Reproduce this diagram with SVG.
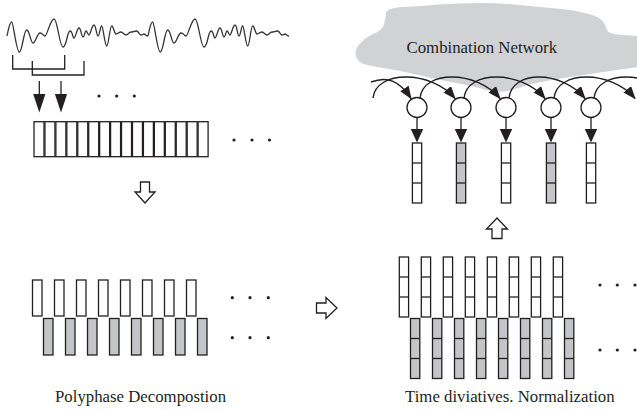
<svg xmlns="http://www.w3.org/2000/svg" xmlns:xlink="http://www.w3.org/1999/xlink" width="637" height="410" viewBox="0 0 637 410">
<style>
.ln{fill:none;stroke:#231f20;stroke-width:1.3}
.bx{fill:#fff;stroke:#231f20;stroke-width:1.3}
.gx{fill:#c4c5c9;stroke:#231f20;stroke-width:1.3}
.dv{stroke:#231f20;stroke-width:1.3}
.dot{fill:#231f20}
.hol{fill:#fff;stroke:#231f20;stroke-width:1.3;stroke-linejoin:miter}
.txt{font-family:"Liberation Serif","Times New Roman",serif;font-size:16.8px;fill:#231f20}
.arc{fill:none;stroke:#231f20;stroke-width:1.4;marker-end:url(#ah)}
.wave{fill:none;stroke:#333;stroke-width:1.3;stroke-linejoin:round}
</style>
<defs>
<marker id="ah" viewBox="0 0 13 10" refX="12" refY="5" markerWidth="13" markerHeight="10" orient="auto" markerUnits="userSpaceOnUse"><path d="M0,0 L13,5 L0,10 z" fill="#231f20"/></marker>
<path id="wv" d="M7,36 C8.5,28 10,22 11.7,22 S16.3,52 19.3,52 S23.7,30 26.7,30 S30.5,43 33,43 S37.2,33 40,33 S43,36 45,36 S50.4,19 54,19 S59.4,47 63,47 S67.2,31 70,31 S72.4,38 74,38 S77,28 79,28 S81.4,37 83,37 S84.8,31 86,31 S87.8,35 89,35 S92,25 94,25 S96.4,36 98,36 S100.2,26 101.7,26 S104.7,46 106.7,46 S109.7,26 111.7,26 S114.3,34 116,34 S119,32 121,32 S124,35 126,35 S129,32 131,32 S134.3,31 136.5,31 S139.2,35 141,35 S142.8,34 144,34 S146.4,36 148,36"/>
<g id="col3w"><rect class="bx" x="0" y="0" width="9.3" height="60"/><line class="dv" x1="0" y1="20" x2="9.3" y2="20"/><line class="dv" x1="0" y1="40" x2="9.3" y2="40"/></g>
<g id="col3g"><rect class="gx" x="0" y="0" width="9.3" height="60"/><line class="dv" x1="0" y1="20" x2="9.3" y2="20"/><line class="dv" x1="0" y1="40" x2="9.3" y2="40"/></g>
</defs>

<g id="cloud">
<path fill="#d1d2d4" d="M403,7 Q420,6 440,4.5 Q460,3 480,3 Q500,3 520,5 Q540,7 557,8.5 Q575,10 587,13.5 Q600,17 603,21.5 Q606,26 607,30 Q608,34 622,35 Q637,36 641,36 Q645,36 645,51 Q645,67 641,67 Q637,67 617,70 Q597,73 580,75.5 Q563,78 546,81 Q530,84 515,89 Q500,94 486,90 Q473,86 456,83 Q440,80 423,76 Q407,72 392,69.5 Q377,67 367,65 Q358,63 356,56.5 Q354,50 360,43.5 Q366,37 374,33.5 Q383,30 384,24 Q386,18 386,13 Q387,8 403,7 Z"/>
<text class="txt" x="406.5" y="53">Combination Network</text>
</g>

<g id="waveform">
<use xlink:href="#wv" href="#wv" class="wave"/>
<use xlink:href="#wv" href="#wv" class="wave" x="141"/>
</g>

<g id="windows">
<path class="ln" d="M12.7,55 V69 H64.7 V55"/>
<path class="ln" d="M32.3,61 V75 H84 V61"/>
</g>

<g id="frames">
<rect class="bx" x="34" y="121.7" width="10" height="35"/>
<rect class="bx" x="44.94" y="121.7" width="10" height="35"/>
<rect class="bx" x="55.88" y="121.7" width="10" height="35"/>
<rect class="bx" x="66.82" y="121.7" width="10" height="35"/>
<rect class="bx" x="77.76" y="121.7" width="10" height="35"/>
<rect class="bx" x="88.7" y="121.7" width="10" height="35"/>
<rect class="bx" x="99.64" y="121.7" width="10" height="35"/>
<rect class="bx" x="110.58" y="121.7" width="10" height="35"/>
<rect class="bx" x="121.52" y="121.7" width="10" height="35"/>
<rect class="bx" x="132.46" y="121.7" width="10" height="35"/>
<rect class="bx" x="143.4" y="121.7" width="10" height="35"/>
<rect class="bx" x="154.34" y="121.7" width="10" height="35"/>
<rect class="bx" x="165.28" y="121.7" width="10" height="35"/>
<rect class="bx" x="176.22" y="121.7" width="10" height="35"/>
<rect class="bx" x="187.16" y="121.7" width="10" height="35"/>
<rect class="bx" x="198.1" y="121.7" width="10" height="35"/>
<circle class="dot" cx="99" cy="96" r="1.6"/><circle class="dot" cx="116.7" cy="96" r="1.6"/><circle class="dot" cx="134.3" cy="96" r="1.6"/>
<circle class="dot" cx="234" cy="140" r="1.6"/><circle class="dot" cx="252" cy="140" r="1.6"/><circle class="dot" cx="269.5" cy="140" r="1.6"/>
</g>

<g id="polyphase">
<rect class="bx" x="32.5" y="280" width="9.5" height="36"/>
<rect class="bx" x="54.5" y="280" width="9.5" height="36"/>
<rect class="bx" x="76.5" y="280" width="9.5" height="36"/>
<rect class="bx" x="98.5" y="280" width="9.5" height="36"/>
<rect class="bx" x="120.5" y="280" width="9.5" height="36"/>
<rect class="bx" x="142.5" y="280" width="9.5" height="36"/>
<rect class="bx" x="164.5" y="280" width="9.5" height="36"/>
<rect class="bx" x="186.5" y="280" width="9.5" height="36"/>
<rect class="gx" x="43.5" y="318.5" width="9.5" height="36.5"/>
<rect class="gx" x="65.5" y="318.5" width="9.5" height="36.5"/>
<rect class="gx" x="87.5" y="318.5" width="9.5" height="36.5"/>
<rect class="gx" x="109.5" y="318.5" width="9.5" height="36.5"/>
<rect class="gx" x="131.5" y="318.5" width="9.5" height="36.5"/>
<rect class="gx" x="153.5" y="318.5" width="9.5" height="36.5"/>
<rect class="gx" x="175.5" y="318.5" width="9.5" height="36.5"/>
<rect class="gx" x="197.5" y="318.5" width="9.5" height="36.5"/>
<circle class="dot" cx="232.3" cy="297.7" r="1.6"/><circle class="dot" cx="250" cy="297.7" r="1.6"/><circle class="dot" cx="268.3" cy="297.7" r="1.6"/>
<circle class="dot" cx="232.3" cy="337.7" r="1.6"/><circle class="dot" cx="250" cy="337.7" r="1.6"/><circle class="dot" cx="268.3" cy="337.7" r="1.6"/>
<text class="txt" x="55" y="402">Polyphase Decompostion</text>
</g>

<g id="features">
<use href="#col3w" xlink:href="#col3w" x="399.3" y="257"/>
<use href="#col3w" xlink:href="#col3w" x="421.3" y="257"/>
<use href="#col3w" xlink:href="#col3w" x="443.3" y="257"/>
<use href="#col3w" xlink:href="#col3w" x="465.3" y="257"/>
<use href="#col3w" xlink:href="#col3w" x="487.3" y="257"/>
<use href="#col3w" xlink:href="#col3w" x="509.3" y="257"/>
<use href="#col3w" xlink:href="#col3w" x="531.3" y="257"/>
<use href="#col3w" xlink:href="#col3w" x="553.3" y="257"/>
<use href="#col3g" xlink:href="#col3g" x="410.5" y="318.5"/>
<use href="#col3g" xlink:href="#col3g" x="432.5" y="318.5"/>
<use href="#col3g" xlink:href="#col3g" x="454.5" y="318.5"/>
<use href="#col3g" xlink:href="#col3g" x="476.5" y="318.5"/>
<use href="#col3g" xlink:href="#col3g" x="498.5" y="318.5"/>
<use href="#col3g" xlink:href="#col3g" x="520.5" y="318.5"/>
<use href="#col3g" xlink:href="#col3g" x="542.5" y="318.5"/>
<use href="#col3g" xlink:href="#col3g" x="564.5" y="318.5"/>
<circle class="dot" cx="600" cy="285" r="1.6"/><circle class="dot" cx="617.3" cy="285" r="1.6"/><circle class="dot" cx="635" cy="285" r="1.6"/>
<circle class="dot" cx="600" cy="350" r="1.6"/><circle class="dot" cx="617.3" cy="350" r="1.6"/><circle class="dot" cx="635" cy="350" r="1.6"/>
<text class="txt" x="405" y="402">Time diviatives. Normalization</text>
</g>

<g id="outputs">
<use href="#col3w" xlink:href="#col3w" x="412.4" y="143"/>
<use href="#col3g" xlink:href="#col3g" x="456.4" y="143"/>
<use href="#col3w" xlink:href="#col3w" x="501.4" y="143"/>
<use href="#col3g" xlink:href="#col3g" x="546.4" y="143"/>
<use href="#col3w" xlink:href="#col3w" x="586.4" y="143"/>
</g>

<g id="nodes">
<circle class="bx" cx="417" cy="107.5" r="10"/>
<circle class="bx" cx="461" cy="107.5" r="10"/>
<circle class="bx" cx="506" cy="107.5" r="10"/>
<circle class="bx" cx="551" cy="107.5" r="10"/>
<circle class="bx" cx="591" cy="107.5" r="10"/>
</g>

<g id="connectors">
<line class="dv" x1="39.3" y1="81" x2="39.3" y2="95"/>
<path d="M33.2,94 L45.4,94 L39.3,112.5 Z" fill="#231f20"/>
<line class="dv" x1="61" y1="81" x2="61" y2="95"/>
<path d="M54.9,94 L67.1,94 L61,112.5 Z" fill="#231f20"/>
<polygon class="hol" points="140.5,182 149.5,182 149.5,192 155,192 145,203 135,192 140.5,192"/>
<polygon class="hol" points="316.5,303 326,303 326,297.5 337,308 326,318.5 326,313 316.5,313"/>
<polygon class="hol" points="497,218 507.5,229 502,229 502,238.5 492,238.5 492,229 486.5,229"/>
<g>
<line class="dv" x1="417" y1="117.5" x2="417" y2="130"/><path d="M410.8,129 L423.2,129 L417,142.5 Z" fill="#231f20"/>
<line class="dv" x1="461" y1="117.5" x2="461" y2="130"/><path d="M454.8,129 L467.2,129 L461,142.5 Z" fill="#231f20"/>
<line class="dv" x1="506" y1="117.5" x2="506" y2="130"/><path d="M499.8,129 L512.2,129 L506,142.5 Z" fill="#231f20"/>
<line class="dv" x1="551" y1="117.5" x2="551" y2="130"/><path d="M544.8,129 L557.2,129 L551,142.5 Z" fill="#231f20"/>
<line class="dv" x1="591" y1="117.5" x2="591" y2="130"/><path d="M584.8,129 L597.2,129 L591,142.5 Z" fill="#231f20"/>
</g>
<path class="arc" d="M371,82 C387,76 399,80 411,98.5"/>
<path class="arc" d="M373,98 C376,70 431,70 455,98.5"/>
<path class="arc" d="M420,98 C423,70 476,70 500,98.5"/>
<path class="arc" d="M464,98 C467,70 521,70 545,98.5"/>
<path class="arc" d="M509,98 C512,70 561,70 585,98.5"/>
<path class="arc" d="M554,98 C557,70 611,70 635,98.5"/>
<path class="arc" d="M594,98 C597,70 651,70 675,98.5"/>
</g>
</svg>
